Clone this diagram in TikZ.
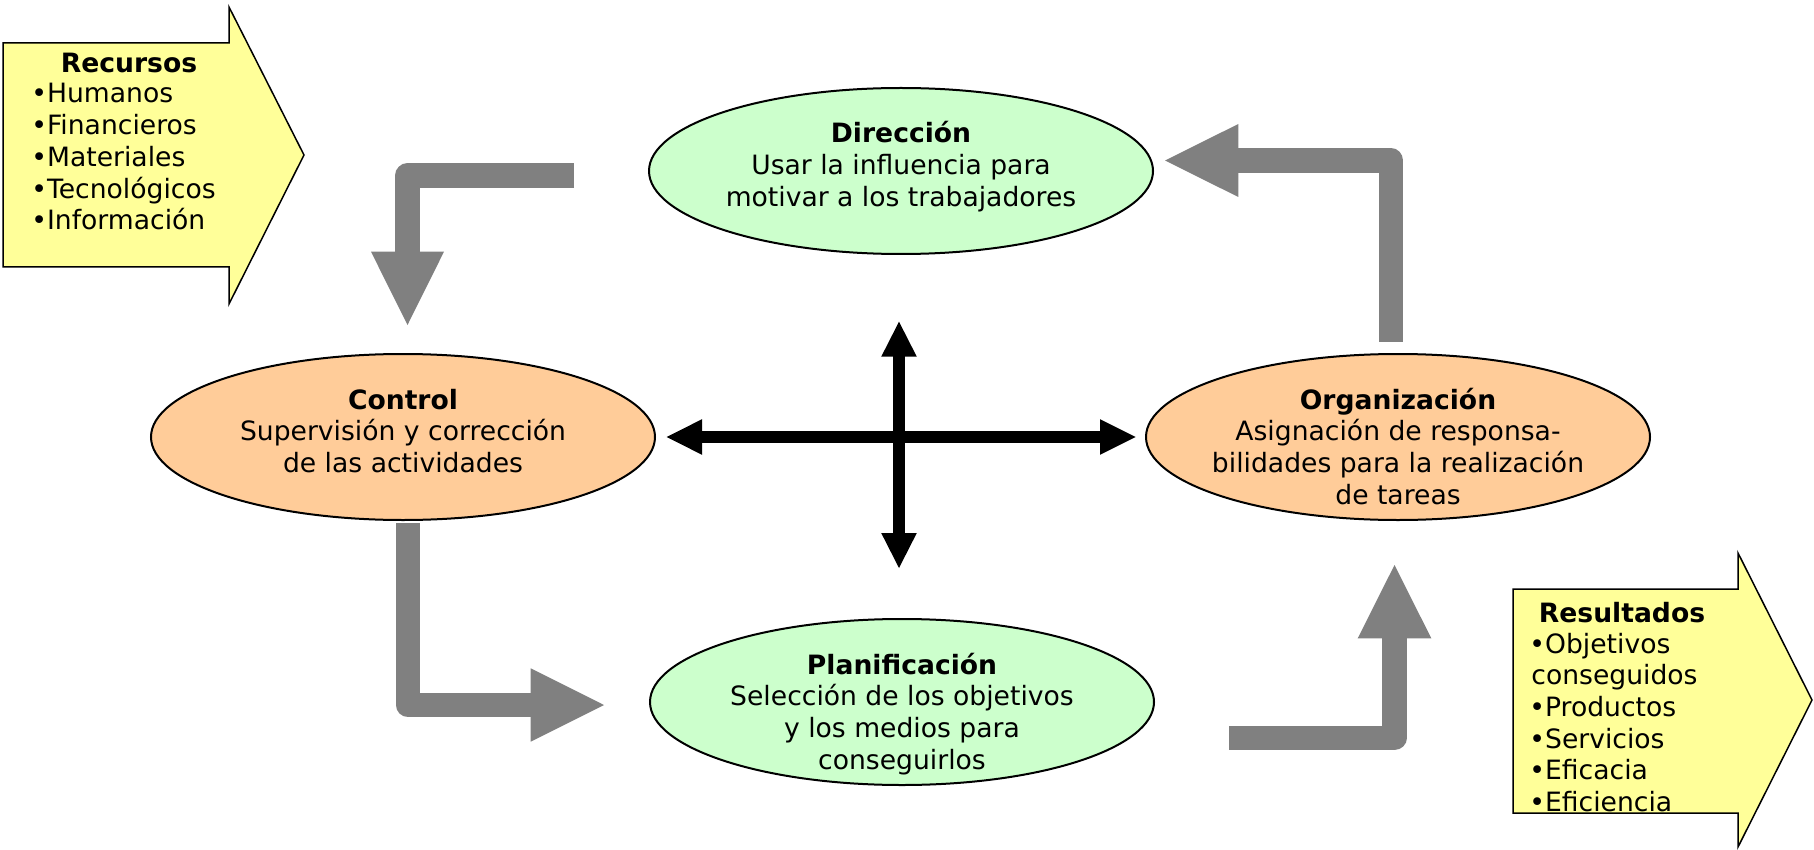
\documentclass[tikz,border=0pt]{standalone}
\usepackage{fontspec}
\setmainfont{DejaVu Sans}
\usetikzlibrary{shapes.geometric}
\definecolor{greenfill}{HTML}{CCFFCC}
\definecolor{orangefill}{HTML}{FFCC99}
\definecolor{yellowfill}{HTML}{FFFF99}
\definecolor{arrowgray}{HTML}{808080}
\begin{document}
\begin{tikzpicture}[x=0.5pt,y=-0.5pt,
  ell/.style={ellipse, draw=black, line width=1pt, minimum width=252pt, minimum height=83pt, inner sep=0pt},
  txt/.style={font=\fontsize{13.3}{15.85}\selectfont, inner sep=0pt, anchor=base},
  listtxt/.style={font=\fontsize{13.3}{15.85}\selectfont, inner sep=0pt, anchor=base west},
  grayshaft/.style={draw=arrowgray, line width=12.2pt, line join=round, line cap=butt},
  grayhead/.style={fill=arrowgray},
  blackshaft/.style={draw=black, line width=5.85pt, line cap=butt},
  blackhead/.style={fill=black},
  yellowarrow/.style={fill=yellowfill, draw=black, line width=0.75pt, line join=miter}]
\useasboundingbox (0,0) rectangle (1814,850);

% ---- Yellow block arrows
\draw[yellowarrow] (3,43) -- (229,43) -- (229,7) -- (304,155) -- (229,304) -- (229,267) -- (3,267) -- cycle;
\node[txt] (rectit) at (129,73) {\textbf{Recursos}};
\node[listtxt] (reclist) at (31,103) {\begin{tabular}[t]{@{}l@{}}•Humanos\\•Financieros\\•Materiales\\•Tecnológicos\\•Información\end{tabular}};

\draw[yellowarrow] (1513,589) -- (1738,589) -- (1738,553) -- (1812,700) -- (1738,847) -- (1738,813) -- (1513,813) -- cycle;
\node[txt] (restit) at (1622,622) {\textbf{Resultados}};
\node[listtxt] (reslist) at (1529,653) {\begin{tabular}[t]{@{}l@{}}•Objetivos\\\kern1pt conseguidos\\•Productos\\•Servicios\\•Eficacia\\•Eficiencia\end{tabular}};

% ---- Ellipses
\node[ell, fill=greenfill] (dir) at (901,171) {};
\node[txt] (dirt) at ([yshift=14pt]dir.center) {\begin{tabular}[t]{@{}c@{}}\textbf{Dirección}\\Usar la influencia para\\motivar a los trabajadores\end{tabular}};

\node[ell, fill=orangefill] (con) at (403,437) {};
\node[txt] (cont) at ([yshift=14pt]con.center) {\begin{tabular}[t]{@{}c@{}}\textbf{Control}\\Supervisión y corrección\\de las actividades\end{tabular}};

\node[ell, fill=orangefill] (org) at (1398,437) {};
\node[txt] (orgt) at ([yshift=14pt]org.center) {\begin{tabular}[t]{@{}c@{}}\textbf{Organización}\\Asignación de responsa-\\bilidades para la realización\\de tareas\end{tabular}};

\node[ell, fill=greenfill] (pla) at (902,702) {};
\node[txt] (plat) at ([yshift=14pt]pla.center) {\begin{tabular}[t]{@{}c@{}}\textbf{Planificación}\\Selección de los objetivos\\y los medios para\\conseguirlos\end{tabular}};

% ---- Gray cycle arrows
% Direccion -> Control
\coordinate (a1s) at (574,175.5);
\coordinate (a1c) at (407.5,175.5);
\coordinate (a1b) at (407.5,252.7);
\draw[grayshaft] (a1s) -- (a1c) -- (a1b);
\fill[grayhead] (371,251.7) -- (444,251.7) -- (407.5,325) -- cycle;

% Organizacion -> Direccion
\coordinate (a2s) at (1391,341.7);
\coordinate (a2c) at (1391,160.5);
\coordinate (a2b) at (1237.3,160.5);
\draw[grayshaft] (a2s) -- (a2c) -- (a2b);
\fill[grayhead] (1238.3,124) -- (1238.3,197) -- (1165,160.5) -- cycle;

% Control -> Planificacion
\coordinate (a3s) at (408,523.3);
\coordinate (a3c) at (408,705);
\coordinate (a3b) at (531.7,705);
\draw[grayshaft] (a3s) -- (a3c) -- (a3b);
\fill[grayhead] (530.7,668.3) -- (530.7,741.7) -- (604,705) -- cycle;

% Planificacion -> Organizacion
\coordinate (a4s) at (1229,737.8);
\coordinate (a4c) at (1394.5,737.8);
\coordinate (a4b) at (1394.5,637.3);
\draw[grayshaft] (a4s) -- (a4c) -- (a4b);
\fill[grayhead] (1357.7,638.3) -- (1431.3,638.3) -- (1394.5,565) -- cycle;

% ---- Black cross arrows
\coordinate (hl) at (666.7,437);
\coordinate (hr) at (1135.7,437);
\coordinate (vt) at (899,321.7);
\coordinate (vb) at (899,568);
\draw[blackshaft] (701,437) -- (1101,437);
\draw[blackshaft] (899,356) -- (899,534);
\fill[blackhead] (hl) -- (702,419.2) -- (702,454.8) -- cycle;
\fill[blackhead] (hr) -- (1100,419.2) -- (1100,454.8) -- cycle;
\fill[blackhead] (vt) -- (881.2,356.7) -- (916.8,356.7) -- cycle;
\fill[blackhead] (vb) -- (881.2,533) -- (916.8,533) -- cycle;
\end{tikzpicture}
\end{document}
